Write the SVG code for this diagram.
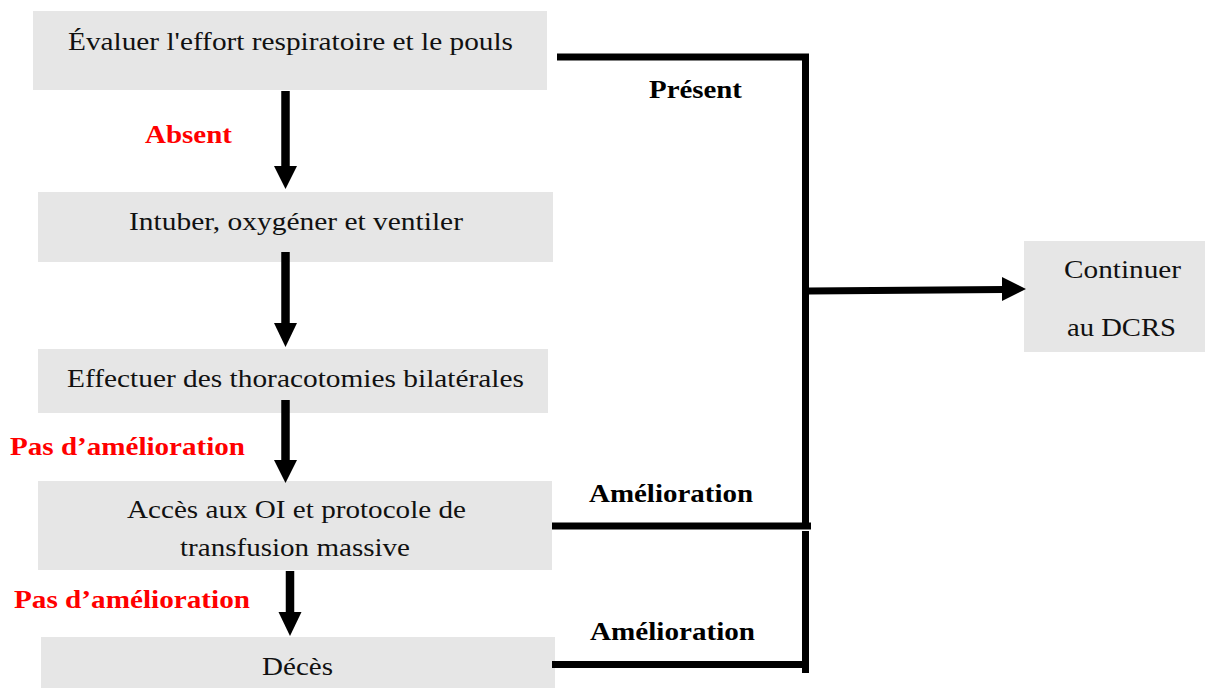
<svg xmlns="http://www.w3.org/2000/svg" width="1205" height="688" viewBox="0 0 1205 688" font-family="'Liberation Serif', 'Times New Roman', Tinos, 'DejaVu Serif', serif">
  <style>
    .box { fill: #e6e6e6; }
    .txt { font-family: 'Liberation Serif', 'Times New Roman', Tinos, 'DejaVu Serif', serif; font-size: 25px; fill: #111; text-anchor: middle; }
    .lbl { font-family: 'Liberation Serif', 'Times New Roman', Tinos, 'DejaVu Serif', serif; font-size: 25px; font-weight: bold; fill: #000; }
    .red { fill: #ff0000; }
    .line { stroke: #000; stroke-width: 7; fill: none; }
    .shaft { stroke: #000; stroke-width: 8.5; fill: none; }
    .head { fill: #000; }
  </style>

  <rect width="1205" height="688" fill="#ffffff"/>

  <!-- process steps -->
  <g id="evaluer">
    <rect class="box" x="33" y="11" width="514" height="79"/>
    <text class="txt" x="290.5" y="50" textLength="445" lengthAdjust="spacingAndGlyphs">Évaluer l'effort respiratoire et le pouls</text>
  </g>
  <g id="intuber">
    <rect class="box" x="38" y="192" width="515" height="70"/>
    <text class="txt" x="296" y="230" textLength="334" lengthAdjust="spacingAndGlyphs">Intuber, oxygéner et ventiler</text>
  </g>
  <g id="thoracotomies">
    <rect class="box" x="38" y="349" width="510" height="64"/>
    <text class="txt" x="295.5" y="387" textLength="457" lengthAdjust="spacingAndGlyphs">Effectuer des thoracotomies bilatérales</text>
  </g>
  <g id="acces">
    <rect class="box" x="38" y="481" width="514" height="89"/>
    <text class="txt" x="296.5" y="518" textLength="339" lengthAdjust="spacingAndGlyphs">Accès aux OI et protocole de</text>
    <text class="txt" x="295" y="556" textLength="230" lengthAdjust="spacingAndGlyphs">transfusion massive</text>
  </g>
  <g id="deces">
    <rect class="box" x="41" y="637" width="514" height="51"/>
    <text class="txt" x="297.5" y="675" textLength="71" lengthAdjust="spacingAndGlyphs">Décès</text>
  </g>
  <g id="dcrs">
    <rect class="box" x="1024" y="241" width="181" height="111"/>
    <text class="txt" x="1122.5" y="278" textLength="117" lengthAdjust="spacingAndGlyphs">Continuer</text>
    <text class="txt" x="1121.5" y="336" textLength="109" lengthAdjust="spacingAndGlyphs">au DCRS</text>
  </g>

  <!-- connectors -->
  <g id="connectors">
    <!-- downward arrows between steps -->
    <line class="shaft" x1="285.5" y1="91" x2="285.5" y2="168"/>
    <polygon class="head" points="274,166 297,166 285.5,189"/>

    <line class="shaft" x1="285.5" y1="252" x2="285.5" y2="325"/>
    <polygon class="head" points="274,323 297,323 285.5,347"/>

    <line class="shaft" x1="285.5" y1="400" x2="285.5" y2="462"/>
    <polygon class="head" points="274,460 297,460 285.5,483"/>

    <line class="shaft" x1="290" y1="571" x2="290" y2="614"/>
    <polygon class="head" points="278.5,612 301.5,612 290,636"/>

    <!-- "Présent" / "Amélioration" branches -->
    <polyline class="line" points="557,57 805.5,57 805.5,527"/>
    <line class="line" x1="552" y1="526" x2="811" y2="526"/>
    <polyline class="line" points="805.5,531 805.5,673"/>
    <line class="line" x1="552" y1="664.5" x2="809" y2="664.5"/>

    <!-- arrow to DCRS -->
    <line class="line" x1="809" y1="291" x2="1004" y2="289.5"/>
    <polygon class="head" points="1002,277 1002,301 1026,289"/>
  </g>

  <!-- branch labels -->
  <g id="labels">
    <text class="lbl red" x="145" y="143" textLength="87" lengthAdjust="spacingAndGlyphs">Absent</text>
    <text class="lbl red" x="10" y="455" textLength="235" lengthAdjust="spacingAndGlyphs">Pas d’amélioration</text>
    <text class="lbl red" x="14" y="608" textLength="236" lengthAdjust="spacingAndGlyphs">Pas d’amélioration</text>
    <text class="lbl" x="649" y="98" textLength="93" lengthAdjust="spacingAndGlyphs">Présent</text>
    <text class="lbl" x="589" y="502" textLength="164" lengthAdjust="spacingAndGlyphs">Amélioration</text>
    <text class="lbl" x="590" y="640" textLength="165" lengthAdjust="spacingAndGlyphs">Amélioration</text>
  </g>
</svg>
